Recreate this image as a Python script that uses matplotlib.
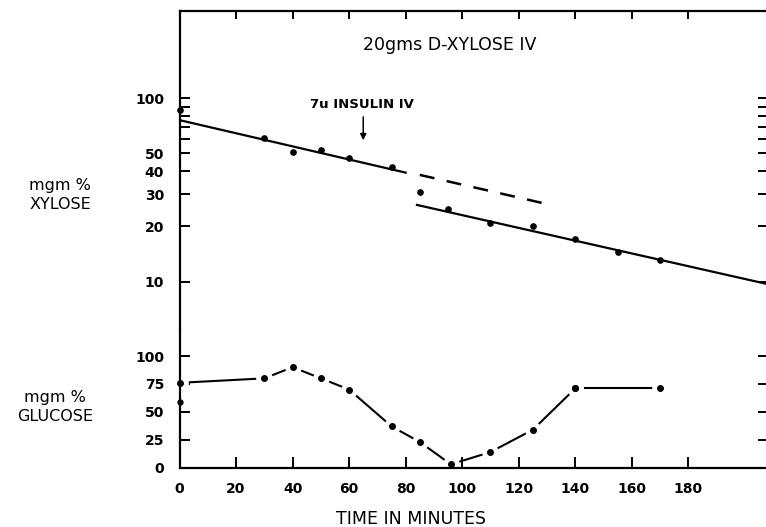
import numpy as np
import matplotlib
matplotlib.use("Agg")
from matplotlib import pyplot as plt
from matplotlib.ticker import FixedLocator, NullFormatter, FixedFormatter

# xylose, mgm % (log scale)
xyl_t = [0, 30, 40, 50, 60, 75, 85, 95, 110, 125, 140, 155, 170]
xyl_v = [86, 61, 51, 52, 47, 42, 31, 25, 21, 20, 17, 14.5, 13.2]

# fitted lines
fit1_t = [0, 80]
fit1_v = [76, 39.3]
fit2_t = [84, 208]
fit2_v = [26.2, 9.7]
dash_t = [85, 129]
dash_v = [38.2, 26.7]

# glucose, mgm %
glu_t = [0, 30, 40, 50, 60, 75, 85, 96, 110, 125, 140]
glu_v = [76, 80, 90, 80, 70, 37, 23, 3, 14, 34, 71]
glu2_t = [140, 170]
glu2_v = [71, 71]
glu_extra_t = [0]
glu_extra_v = [59]

xticks = [0, 20, 40, 60, 80, 100, 120, 140, 160, 180]
xyl_major = [10, 20, 30, 40, 50, 100]
xyl_minor = [60, 70, 80, 90]
glu_ticks = [0, 25, 50, 75, 100]

fig = plt.figure(figsize=(7.66, 5.27), dpi=100)
W, H = 766, 527
x0, x1 = 179.5, 767.5
y_top, y_mid, y_bot = 11, 330, 467.7
ax1 = fig.add_axes([x0 / W, 1 - y_mid / H, (x1 - x0) / W, (y_mid - y_top) / H])
ax2 = fig.add_axes([x0 / W, 1 - y_bot / H, (x1 - x0) / W, (y_bot - y_mid) / H], sharex=ax1)

for ax in (ax1, ax2):
    for s in ax.spines.values():
        s.set_linewidth(1.6)
ax1.spines["bottom"].set_visible(False)
ax2.spines["top"].set_visible(False)

# upper panel
ax1.set_yscale("log")
ax1.set_ylim(5.45, 299)
ax1.set_xlim(0, 208)
ax1.plot(fit1_t, fit1_v, color="black", lw=1.6)
ax1.plot(fit2_t, fit2_v, color="black", lw=1.6)
ax1.plot(dash_t, dash_v, color="black", lw=1.8, dashes=(6, 5))
ax1.plot(xyl_t, xyl_v, "o", color="black", ms=3.8, clip_on=False, zorder=3)

ax1.yaxis.set_major_locator(FixedLocator(xyl_major))
ax1.yaxis.set_major_formatter(FixedFormatter([str(v) for v in xyl_major]))
ax1.yaxis.set_minor_locator(FixedLocator(xyl_minor))
ax1.yaxis.set_minor_formatter(NullFormatter())
ax1.xaxis.set_major_locator(FixedLocator(xticks))
ax1.tick_params(axis="y", which="both", direction="in", length=7, width=1.4,
                left=True, right=True, labelsize=10, pad=11)
ax1.tick_params(axis="x", which="both", direction="in", length=6, width=1.4,
                top=True, bottom=False, labelbottom=False)
for lab in ax1.get_yticklabels():
    lab.set_fontweight("bold")

ax1.text(0.46, 0.893, "20gms D-XYLOSE IV", transform=ax1.transAxes,
         ha="center", va="center", fontsize=12.5)
ax1.annotate("", xy=(65, 57), xytext=(65, 82),
             arrowprops=dict(arrowstyle="-|>", color="black", lw=1.1,
                             mutation_scale=9))
ax1.text(64.5, 92, "7u INSULIN IV", ha="center", va="center", fontsize=9.5,
         fontweight="bold")

# lower panel
ax2.set_ylim(0, 123.3)
ax2.plot(glu_t, glu_v, color="black", lw=1.5, zorder=2)
ax2.plot(glu2_t, glu2_v, color="black", lw=1.5, zorder=2)
ax2.plot(glu_t + glu2_t, glu_v + glu2_v, "o", color="white", ms=11, zorder=2.1)
ax2.plot(glu_t + glu2_t, glu_v + glu2_v, "o", color="black", ms=4, zorder=3,
         clip_on=False)
ax2.plot(glu_extra_t, glu_extra_v, "o", color="black", ms=3.5, zorder=3,
         clip_on=False)

ax2.yaxis.set_major_locator(FixedLocator(glu_ticks))
ax2.yaxis.set_minor_locator(FixedLocator([]))
ax2.tick_params(axis="y", direction="in", length=7, width=1.4, left=True,
                right=True, labelsize=10, pad=11)
ax2.tick_params(axis="x", direction="in", length=8, width=1.4, top=False,
                bottom=True, labelsize=10, pad=10)
for lab in ax2.get_yticklabels() + ax2.get_xticklabels():
    lab.set_fontweight("bold")

fig.text(60 / W, 1 - 195 / H, "mgm %\nXYLOSE", ha="center", va="center",
         fontsize=11.5, linespacing=1.4)
fig.text(55 / W, 1 - 407 / H, "mgm %\nGLUCOSE", ha="center", va="center",
         fontsize=11.5, linespacing=1.4)
fig.text(411 / W, 1 - 519 / H, "TIME IN MINUTES", ha="center", va="center",
         fontsize=12.5)

fig.savefig("out.png", dpi=100)
